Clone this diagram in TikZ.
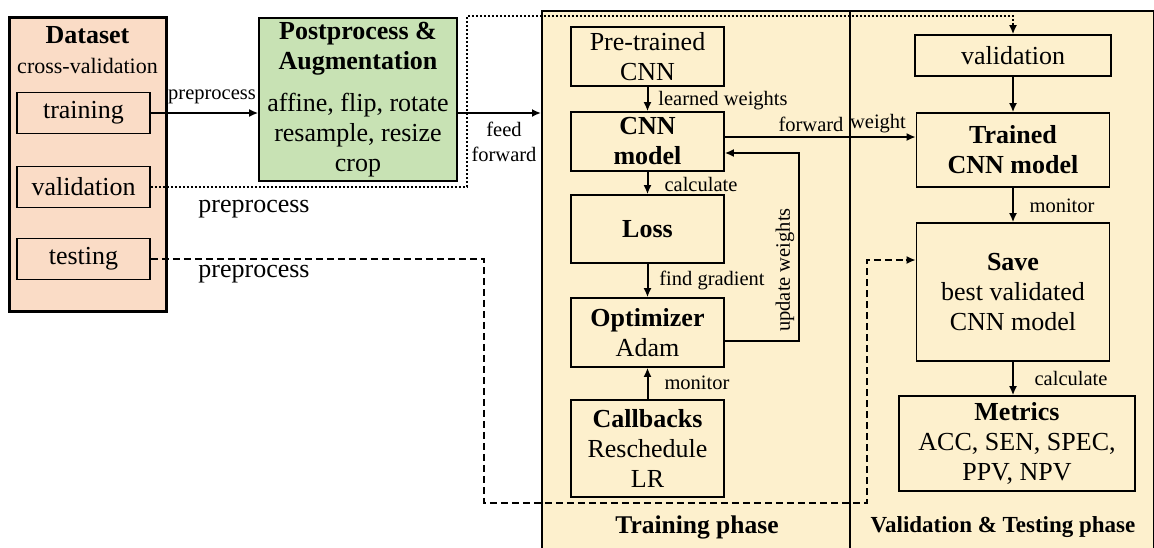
\documentclass[tikz,border=0pt]{standalone}
\usepackage{fontspec}
\setmainfont{Liberation Serif}
\usetikzlibrary{arrows.meta}
\definecolor{peach}{RGB}{250,220,198}
\definecolor{augg}{RGB}{200,226,180}
\definecolor{panelc}{RGB}{253,240,205}
\newcommand{\fsA}{\fontsize{26}{30}\selectfont}
\newcommand{\fsB}{\fontsize{20.5}{25}\selectfont}
\begin{document}
\begin{tikzpicture}[x=1pt,y=-1pt,
  box/.style={draw, line width=1.6pt, inner sep=0pt, align=center, font=\fsA},
  dbox/.style={box, fill=peach, minimum width=133pt, minimum height=41pt},
  panel/.style={draw, line width=1.6pt, fill=panelc, inner sep=0pt, anchor=north west},
  lbl/.style={inner sep=0pt, font=\fsB, align=center},
  big/.style={inner sep=0pt, font=\fsA, align=center},
  arr/.style={line width=2pt, -{Latex[length=9pt,width=8pt]}},
  dotline/.style={line width=2pt, dash pattern=on 2pt off 2pt},
  dashline/.style={line width=2pt, dash pattern=on 7pt off 4pt}]
\useasboundingbox (0,0) rectangle (1154,547);

% phase panels
\node[panel, minimum width=308pt, minimum height=560pt] (tpanel) at (541,10) {};
\node[panel, minimum width=304pt, minimum height=560pt] (vpanel) at (849,10) {};

% dataset
\node[draw, line width=3pt, fill=peach, minimum width=157pt, minimum height=294pt, inner sep=0pt] (dataset) at (87.5,164) {};
\node[big] (dstitle) at (87.5,50) {\textbf{Dataset}\\{\fontsize{22}{30}\selectfont cross-validation}};
\node[dbox] (training) at (83.5,113) {training};
\node[dbox] (validation) at (83.5,187) {validation};
\node[dbox] (testing) at (83.5,259) {testing};

% augmentation
\node[box, fill=augg, minimum width=198pt, minimum height=163pt] (aug) at (358,99.5)
  {\textbf{Postprocess \&}\\\textbf{Augmentation}\\[12pt]affine, flip, rotate\\resample, resize\\crop};

% training column
\node[box, minimum width=153pt, minimum height=59pt] (pretrained) at (647.5,56.5) {Pre-trained\\CNN};
\node[box, minimum width=153pt, minimum height=59pt] (cnn) at (647.5,141.5) {\textbf{CNN}\\\textbf{model}};
\node[box, minimum width=153pt, minimum height=68pt] (loss) at (647.5,229) {\textbf{Loss}};
\node[box, minimum width=153pt, minimum height=69pt] (optim) at (647.5,332.5) {\textbf{Optimizer}\\Adam};
\node[box, minimum width=153pt, minimum height=97pt] (callbacks) at (647.5,448.5) {\textbf{Callbacks}\\Reschedule\\LR};

% validation column
\node[box, minimum width=196pt, minimum height=41pt] (valbox) at (1013,55.5) {validation};
\node[box, minimum width=193pt, minimum height=74pt] (trained) at (1013,150) {\textbf{Trained}\\\textbf{CNN model}};
\node[box, minimum width=193pt, minimum height=138pt] (save) at (1013,292) {\textbf{Save}\\best validated\\CNN model};
\node[box, minimum width=236pt, minimum height=95pt] (metrics) at (1017,443.5) {\textbf{Metrics}\\ACC, SEN, SPEC,\\PPV, NPV};

% training -> augmentation -> training phase
\draw[arr] (training.east) -- (aug.west |- training.east);
\node[lbl] (lpre1) at (212,97) {preprocess};
\draw[arr] (aug.east |- training.east) -- (tpanel.west |- training.east);
\node[lbl] (lfeed) at (504,142) {feed\\forward};

% validation dotted path
\coordinate (vtop) at (467,16);
\draw[dotline] (validation.east) -| (vtop) -| ([yshift=8pt]valbox.north);
\draw[arr] ([yshift=9pt]valbox.north) -- (valbox.north);
\node[big] (lpre2) at (254,209) {preprocess};

% testing dashed path
\coordinate (tc1) at (484,503);
\coordinate (tc2) at (867,260);
\draw[dashline] (testing.east) -| (tc1) -| (tc2) -- ([xshift=-9pt]save.west |- tc2);
\draw[arr] ([xshift=-10pt]save.west |- tc2) -- (save.west |- tc2);
\node[big] (lpre3) at (254,274) {preprocess};

% training column arrows
\draw[arr] (pretrained.south) -- (cnn.north);
\node[lbl] (llw) at (723,101) {learned weights};
\draw[arr] (cnn.south) -- (loss.north);
\node[lbl] (lcalc1) at (701,184) {calculate};
\draw[arr] (loss.south) -- (optim.north);
\node[lbl] (lgrad) at (712,280) {find gradient};
\draw[arr] (callbacks.north) -- (optim.south);
\node[lbl] (lmon1) at (697,383) {monitor};

% update weights loop
\coordinate (uwb) at (799,341);
\coordinate (uwt) at (799,153);
\draw[arr] (optim.east |- uwb) -- (uwb) -- (uwt) -- (cnn.east |- uwt);
\node[lbl, rotate=90] (luw) at (785,270) {update weights};

% forward weight
\draw[arr] ([yshift=4.5pt]cnn.east) coordinate (fwa) -- (trained.west |- fwa);
\node[lbl] (lfw) at (811,124) {forward};
\node[lbl] (lwt) at (878,124) {weight};

% validation column arrows
\draw[arr] (valbox.south) -- (trained.north);
\draw[arr] (trained.south) -- (save.north);
\node[lbl] (lmon2) at (1062,206) {monitor};
\draw[arr] (save.south) -- (save.south |- metrics.north);
\node[lbl] (lcalc2) at (1071,378) {calculate};

% phase labels
\node[inner sep=0pt, font=\fontsize{25.5}{30}\selectfont\bfseries] (ltp) at (697,527) {Training phase};
\node[inner sep=0pt, font=\fontsize{23}{30}\selectfont\bfseries] (lvp) at (1003,527) {Validation \& Testing phase};
\end{tikzpicture}
\end{document}
